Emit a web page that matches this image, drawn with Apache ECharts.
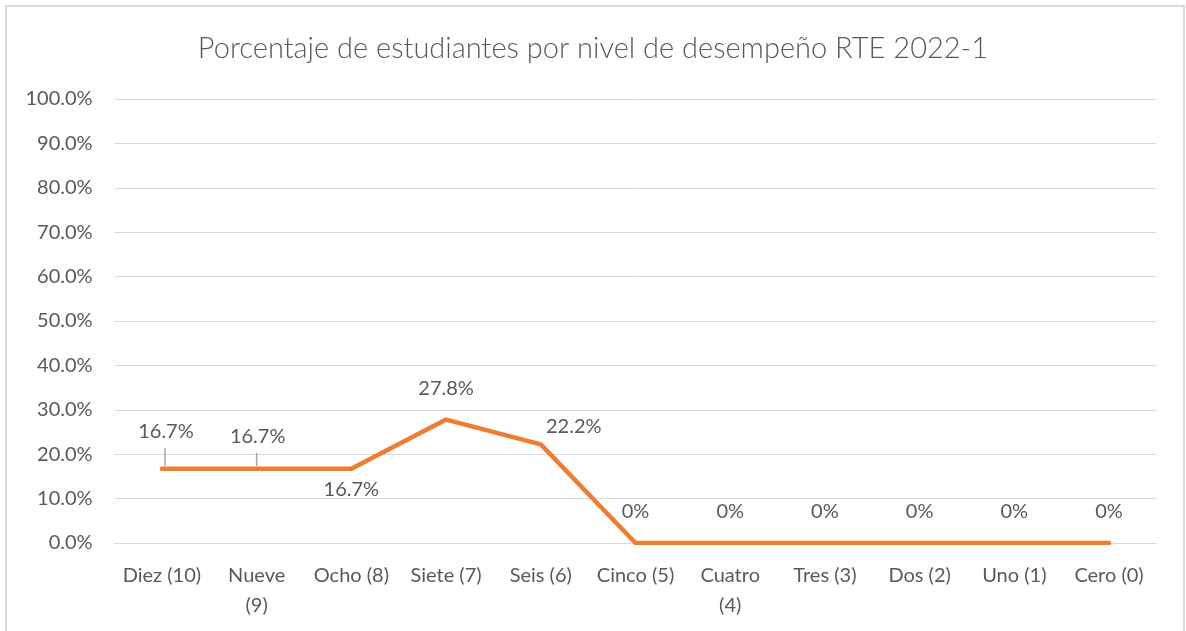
<!DOCTYPE html>
<html>
<head>
<meta charset="utf-8">
<script src="https://cdn.jsdelivr.net/npm/echarts@6/dist/echarts.min.js"></script>
<style>
html,body{margin:0;padding:0;background:#fff;}
#c{width:1186px;height:631px;}
</style>
</head>
<body>
<div id="c"></div>
<script>
const title = 'Porcentaje de estudiantes por nivel de desempeño RTE 2022-1';
const categories = ['Diez (10)', 'Nueve\n(9)', 'Ocho (8)', 'Siete (7)', 'Seis (6)', 'Cinco (5)', 'Cuatro\n(4)', 'Tres (3)', 'Dos (2)', 'Uno (1)', 'Cero (0)'];
const values = [16.7, 16.7, 16.7, 27.8, 22.2, 0, 0, 0, 0, 0, 0];
const valueLabels = ['16.7%', '16.7%', '16.7%', '27.8%', '22.2%', '0%', '0%', '0%', '0%', '0%', '0%'];
const yTicks = { min: 0, max: 100, interval: 10 };

const FONT = 'Lato';
const GREY = '#595959';

// per-point label placement (style only)
const labelPlacement = [
  { offset: [4, -22], line: true },
  { offset: [1, -17], line: true },
  { position: 'bottom', offset: [0, 6] },
  { offset: [0, -16] },
  { offset: [33, -3] },
  { offset: [0, -16] }, { offset: [0, -16] }, { offset: [0, -16] },
  { offset: [0, -16] }, { offset: [0, -16] }, { offset: [0, -16] }
];

const data = values.map((v, i) => {
  const p = labelPlacement[i];
  return {
    value: v,
    label: {
      position: p.position || 'top',
      offset: p.offset,
      formatter: valueLabels[i]
    }
  };
});

const chart = echarts.init(document.getElementById('c'), null, { renderer: 'canvas' });

const frame = {
  type: 'rect',
  shape: { x: 6, y: 6, width: 1178, height: 700 },
  style: { fill: 'none', stroke: '#d9d9d9', lineWidth: 2 },
  silent: true, z: -1
};

chart.setOption({
  animation: false,
  textStyle: { fontFamily: FONT },
  graphic: [frame],
  title: {
    text: title,
    left: 'center',
    top: 29,
    textStyle: { fontFamily: FONT, fontSize: 29, fontWeight: 300, color: GREY }
  },
  grid: { left: 114.6, right: 29.6, top: 99, bottom: 88, containLabel: false },
  xAxis: {
    type: 'category',
    data: categories,
    boundaryGap: true,
    axisLine: { show: true, lineStyle: { color: '#d9d9d9', width: 1 } },
    axisTick: { show: false },
    axisLabel: { color: GREY, fontFamily: FONT, fontSize: 20, margin: 18, lineHeight: 30, interval: 0 }
  },
  yAxis: {
    type: 'value',
    min: yTicks.min, max: yTicks.max, interval: yTicks.interval,
    axisLine: { show: false },
    axisTick: { show: false },
    splitLine: { lineStyle: { color: '#d9d9d9', width: 1 } },
    axisLabel: { color: GREY, fontFamily: FONT, fontSize: 20, margin: 22, formatter: v => v.toFixed(1) + '%' }
  },
  series: [{
    type: 'line',
    data: data,
    symbol: 'circle',
    symbolSize: 0.1,
    showSymbol: true,
    itemStyle: { color: '#ED7D31' },
    lineStyle: { color: '#ED7D31', width: 4.5, cap: 'round', join: 'round' },
    label: { show: true, color: GREY, fontFamily: FONT, fontSize: 20 },
    z: 3
  }]
});

// leader lines: short vertical segments from the point toward the displaced label
const g = [];
values.forEach((v, i) => {
  const p = labelPlacement[i];
  if (!p.line) return;
  const pt = chart.convertToPixel({ seriesIndex: 0 }, [i, v]);
  const x = pt[0] + p.offset[0] - 1;
  g.push({
    type: 'line',
    shape: { x1: x, y1: pt[1] - 3, x2: x, y2: pt[1] + p.offset[1] + 1 },
    style: { stroke: '#a6a6a6', lineWidth: 1.5 },
    silent: true, z: 2
  });
});
chart.setOption({ graphic: [frame].concat(g) });
</script>
</body>
</html>
